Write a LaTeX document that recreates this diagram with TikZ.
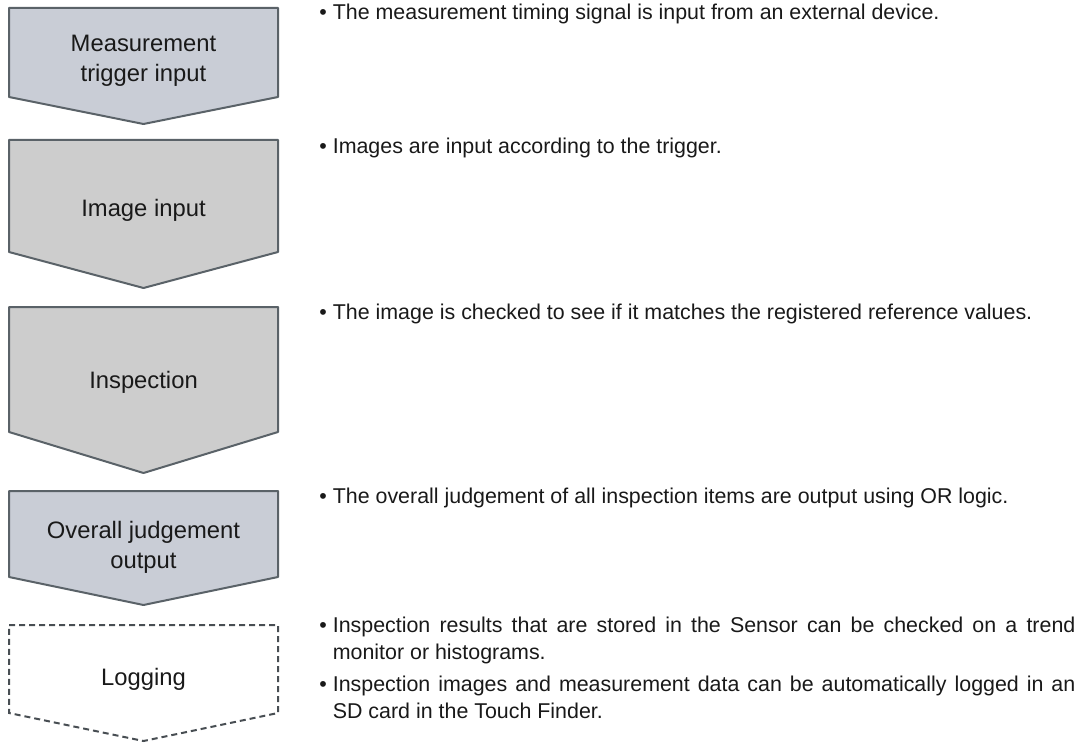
\documentclass[tikz,border=0pt]{standalone}
\usepackage{fontspec}
\setmainfont{Liberation Sans}
\usepackage{color}
\definecolor{flowblue}{RGB}{201,205,214}
\definecolor{flowgray}{RGB}{205,205,205}
\definecolor{flowedge}{RGB}{90,98,104}
\definecolor{flowtext}{RGB}{25,25,25}

% one arrow shaped step: style, top, side bottom, tip
\newcommand{\flowshape}[4]{%
  \draw[#1] (9,#2) -- (278,#2) -- (278,#3) -- (143.5,#4) -- (9,#3) -- cycle;}
% one bullet line of the notes
\newcommand{\noteitem}[1]{%
  \setbox0=\hbox{\textbullet~}\hangindent=\wd0 \hangafter=1
  \noindent\box0 #1\par}

\begin{document}
\begin{tikzpicture}[x=0.5pt,y=-0.5pt,
  stepfill/.style={draw=flowedge, line width=1pt, line join=round},
  steptext/.style={text=flowtext, align=center, font=\fontsize{11.9}{15}\selectfont},
  note/.style={anchor=base west, inner sep=0pt, text=flowtext, text width=378pt,
    align=justify, font=\fontsize{10.7}{13.5}\selectfont}]
  \useasboundingbox (0,0) rectangle (1080,743);
  % Steps
  \flowshape{stepfill, fill=flowblue}{8}{97}{124}
  \flowshape{stepfill, fill=flowgray}{140}{252}{288}
  \flowshape{stepfill, fill=flowgray}{307}{432}{473}
  \flowshape{stepfill, fill=flowblue}{491}{577}{605}
  \flowshape{draw=flowedge!80!black, line width=1pt, dash pattern=on 3pt off 2pt}{625}{713}{741}
  % Step labels
  \node[steptext] (trigger) at (143.5,61) {Measurement\\trigger input};
  \node[steptext] (image) at (143.5,210) {Image input};
  \node[steptext] (inspect) at (143.5,382) {Inspection};
  \node[steptext] (judge) at (143.5,547) {Overall judgement\\output};
  \node[steptext] (logging) at (143.5,679) {Logging};
  % Notes
  \node[note] (triggernote) at (319,20)
    {\noteitem{The measurement timing signal is input from an external device.}};
  \node[note] (imagenote) at (319,154)
    {\noteitem{Images are input according to the trigger.}};
  \node[note] (inspectnote) at (319,319)
    {\noteitem{The image is checked to see if it matches the registered reference values.}};
  \node[note] (judgenote) at (319,503)
    {\noteitem{The overall judgement of all inspection items are output using OR logic.}};
  \node[note] (loggingnote) at (319,632)
    {\noteitem{Inspection results that are stored in the Sensor can be checked on a trend\linebreak monitor or histograms.}\vspace{2.5pt}
     \noteitem{Inspection images and measurement data can be automatically logged in an\linebreak SD card in the Touch Finder.}};
\end{tikzpicture}
\end{document}
